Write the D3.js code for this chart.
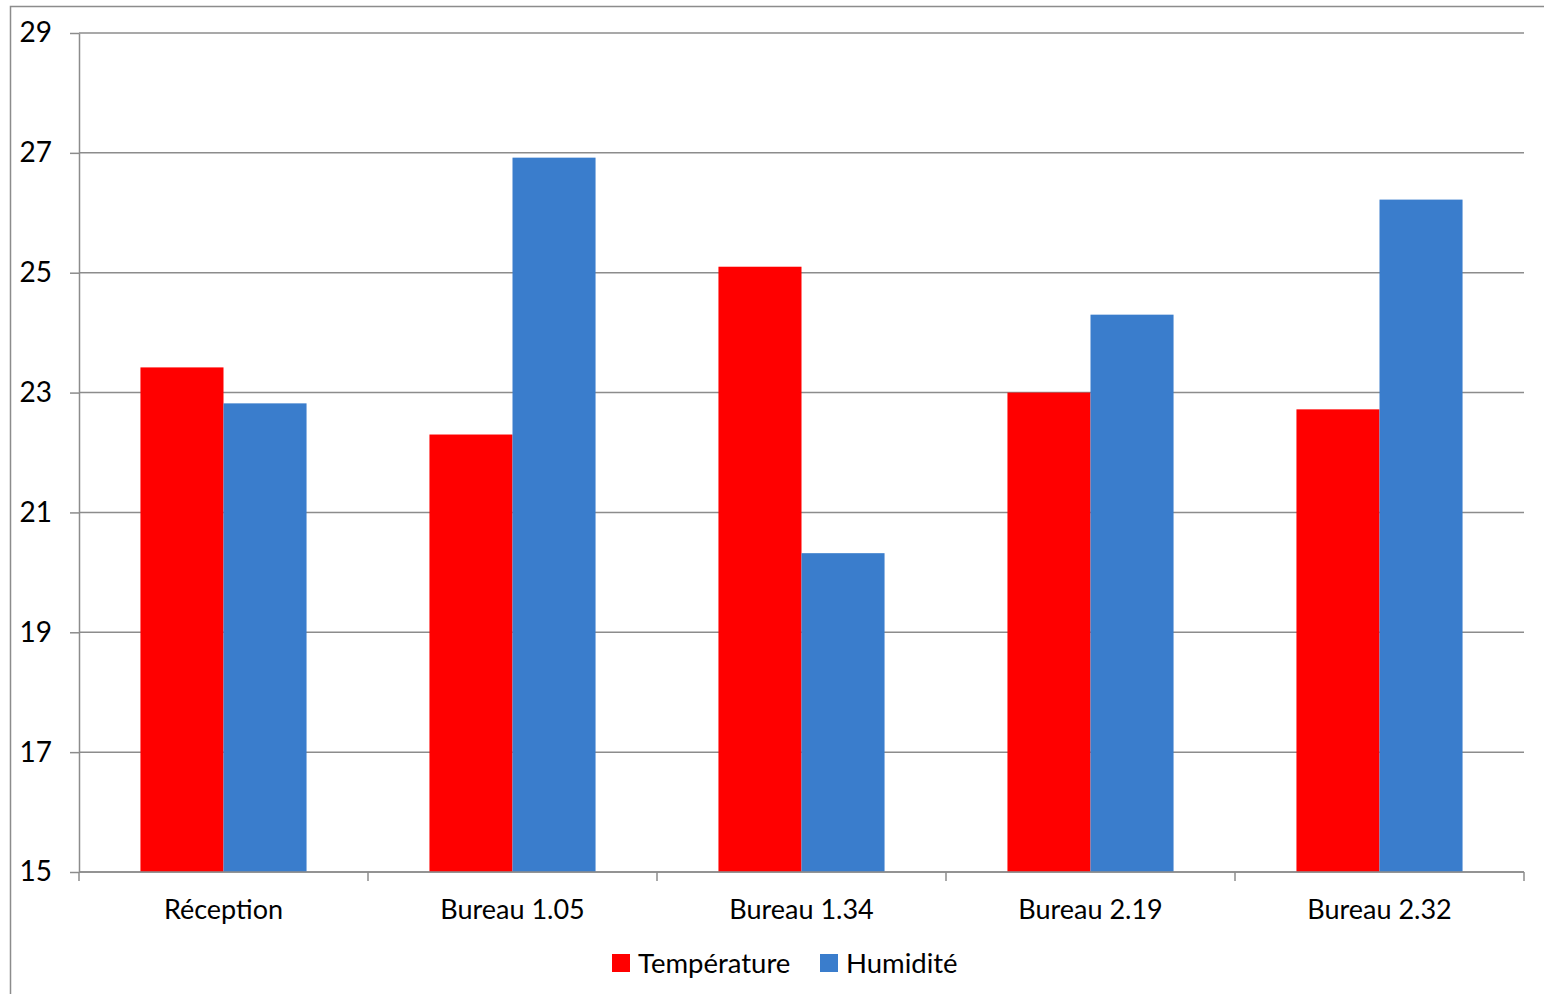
<!DOCTYPE html>
<html><head><meta charset="utf-8">
<script src="https://cdn.jsdelivr.net/npm/d3@7"></script>
<style>body{margin:0;background:#fff}svg{display:block}</style>
</head><body><svg id="c" width="1544" height="994"></svg>
<script>
const categories = ["Réception","Bureau 1.05","Bureau 1.34","Bureau 2.19","Bureau 2.32"];
const temperature = [23.42, 22.3, 25.1, 23.0, 22.72];
const humidite = [22.82, 26.92, 20.32, 24.3, 26.22];
const seriesNames = ["Température","Humidité"];
const colors = ["#ff0000","#3a7dcc"];
const yTicks = [15,17,19,21,23,25,27,29];

const svg = d3.select("#c");
const font = "Lato, 'Open Sans', sans-serif";
svg.append("rect").attr("x",10.5).attr("y",6.5).attr("width",1600).attr("height",1100)
  .attr("fill","#fff").attr("stroke","#8c8c8c").attr("stroke-width",1.5);

const L=79,R=1524,T=33,B=872;
const x = d3.scaleBand().domain(categories).range([L,R]).paddingInner(0).paddingOuter(0);
const y = d3.scaleLinear().domain([15,29]).range([B,T]);
const xs = d3.scaleBand().domain(seriesNames).range([0,x.bandwidth()]).paddingInner(0).paddingOuter(0.74);

const g = svg.append("g");
g.selectAll("line.grid").data(yTicks).enter().append("line")
  .attr("x1",L).attr("x2",R).attr("y1",d=>y(d)).attr("y2",d=>y(d))
  .attr("stroke","#8c8c8c").attr("stroke-width",1.5);

const data = categories.map((c,i)=>({c, vals:[temperature[i],humidite[i]]}));
const grp = g.selectAll("g.cat").data(data).enter().append("g").attr("transform",d=>`translate(${x(d.c)},0)`);
grp.selectAll("rect").data(d=>d.vals.map((v,j)=>({v,j}))).enter().append("rect")
  .attr("x",d=>xs(seriesNames[d.j])).attr("width",xs.bandwidth())
  .attr("y",d=>y(d.v)).attr("height",d=>B-y(d.v)).attr("fill",d=>colors[d.j]);

const ya = d3.axisLeft(y).tickValues(yTicks).tickSize(9).tickSizeOuter(0).tickPadding(18);
const yg = svg.append("g").attr("transform",`translate(${L},0)`).call(ya);
yg.select(".domain").attr("stroke","#8c8c8c").attr("stroke-width",1.5);
yg.selectAll(".tick line").attr("stroke","#8c8c8c").attr("stroke-width",1.5);
yg.selectAll("text").attr("font-family",font).attr("font-size",28).attr("fill","#000");

const xa = d3.axisBottom(x).tickSize(0).tickPadding(28);
const xg = svg.append("g").attr("transform",`translate(0,${B})`).call(xa);
xg.select(".domain").attr("stroke","#8c8c8c").attr("stroke-width",1.5).attr("d",`M${L},0H${R}`);
xg.selectAll("text").attr("font-family",font).attr("font-size",27).attr("fill","#000");
const bounds = d3.range(categories.length+1).map(i=>L+i*x.bandwidth());
xg.selectAll("line.sep").data(bounds).enter().append("line")
  .attr("x1",d=>d).attr("x2",d=>d).attr("y1",0).attr("y2",9)
  .attr("stroke","#8c8c8c").attr("stroke-width",1.5);

const leg = svg.append("g");
const legX=[612,820];
seriesNames.forEach((s,i)=>{
  leg.append("rect").attr("x",legX[i]).attr("y",954).attr("width",18).attr("height",18).attr("fill",colors[i]);
  leg.append("text").attr("x",legX[i]+26).attr("y",973).text(s)
    .attr("font-family",font).attr("font-size",27.5).attr("fill","#000");
});
</script></body></html>
